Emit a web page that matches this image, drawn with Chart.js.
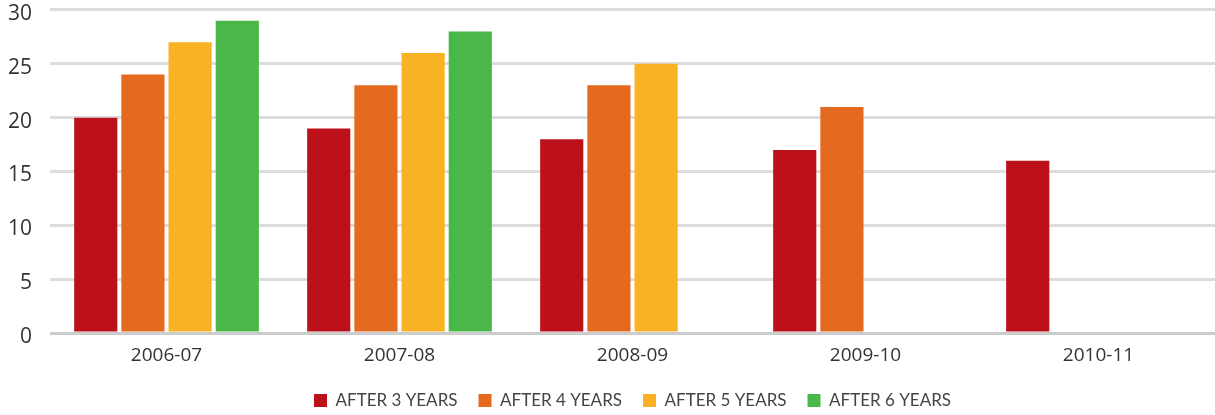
<!DOCTYPE html>
<html>
<head>
<meta charset="utf-8">
<script src="https://cdn.jsdelivr.net/npm/chart.js@4"></script>
<style>
  html, body { margin: 0; padding: 0; background: #fff; }
  #wrap { width: 1215px; height: 415px; position: relative; }
</style>
</head>
<body>
<div id="wrap"><canvas id="grafica"></canvas></div>
<script>
// Datos
var categorias = ["2006-07", "2007-08", "2008-09", "2009-10", "2010-11"];
var despues3 = [20, 19, 18, 17, 16];
var despues4 = [24, 23, 23, 21, null];
var despues5 = [27, 26, 25, null, null];
var despues6 = [29, 28, null, null, null];
var etiquetas = ["AFTER 3 YEARS", "AFTER 4 YEARS", "AFTER 5 YEARS", "AFTER 6 YEARS"];
var colores = ["#BC111B", "#E46A1F", "#FAB225", "#4AB848"];

var series = [despues3, despues4, despues5, despues6];
var chartDataSet = [];
for (var i = 0; i < series.length; i++) {
    chartDataSet.push({
        label: etiquetas[i],
        data: series[i],
        backgroundColor: colores[i],
        borderWidth: 0,
        categoryPercentage: 0.81,
        barPercentage: 0.915
    });
}

var ctx = document.getElementById("grafica");
window.myBar = new Chart(ctx, {
    type: "bar",
    data: { labels: categorias, datasets: chartDataSet },
    options: {
        responsive: true,
        maintainAspectRatio: false,
        animation: false,
        layout: { padding: { top: 0, right: 0, left: 8, bottom: -4 } },
        plugins: {
            legend: {
                position: "bottom",
                fullSize: false,
                labels: {
                    boxWidth: 13,
                    boxHeight: 13,
                    padding: 21,
                    color: "#444",
                    font: { family: "Lato", size: 17 }
                }
            },
            tooltip: { enabled: false }
        },
        scales: {
            x: {
                grid: { display: false, drawTicks: true, tickLength: 8 },
                border: { display: false },
                ticks: {
                    color: "#333",
                    padding: 13,
                    font: { family: "Open Sans", size: 19, lineHeight: 0.21 }
                }
            },
            y: {
                min: 0,
                max: 30,
                border: { display: false },
                grid: {
                    color: function (c) { return c.tick.value === 0 ? "#cccccc" : "#dddddd"; },
                    lineWidth: 3,
                    drawTicks: true,
                    tickLength: 18,
                    tickColor: "rgba(0,0,0,0)"
                },
                ticks: {
                    stepSize: 5,
                    color: "#333",
                    padding: 0,
                    labelOffset: 4,
                    font: { family: "Open Sans", size: 21, lineHeight: 0.95 }
                }
            }
        }
    }
});
</script>
</body>
</html>
